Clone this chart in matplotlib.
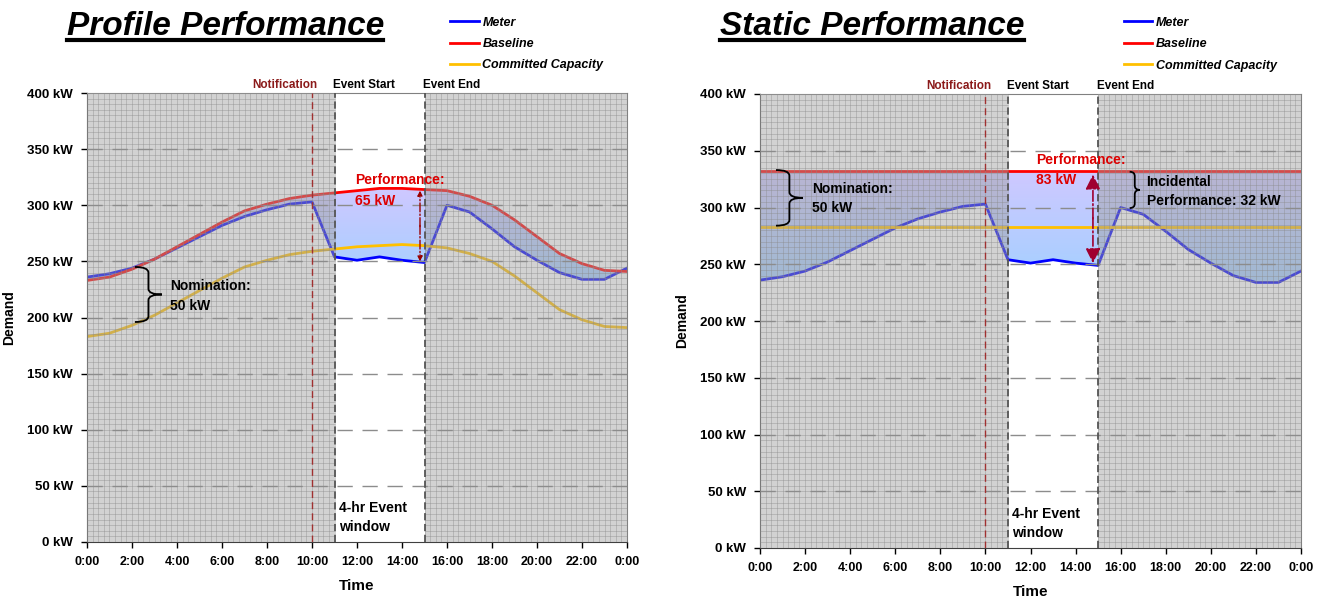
import numpy as np
import matplotlib.pyplot as plt
from matplotlib.path import Path
from matplotlib.patches import PathPatch
from matplotlib.colors import LinearSegmentedColormap
from matplotlib.lines import Line2D

plt.rcParams['font.family'] = ['Liberation Sans', 'DejaVu Sans']

# hourly readings, 0:00 .. 24:00
hours = np.arange(0, 25)
meter = [236, 239, 244, 252, 262, 272, 282, 290, 296, 301, 303, 254, 251, 254,
         251, 249, 300, 294, 279, 263, 251, 240, 234, 234, 244]
baseline_profile = [233, 236, 243, 252, 263, 274, 285, 295, 301, 306, 309, 311, 313,
                    315, 315, 314, 313, 308, 300, 287, 272, 257, 248, 242, 241]
committed_profile = [183, 186, 193, 202, 213, 224, 235, 245, 251, 256, 259, 261, 263,
                     264, 265, 264, 262, 257, 250, 237, 222, 207, 198, 192, 191]
baseline_static = 332
committed_static = 283

notification_hour = 10
event_start = 11
event_end = 15

xtick_hours = np.arange(0, 25, 2)
xtick_labels = ['0:00', '2:00', '4:00', '6:00', '8:00', '10:00', '12:00', '14:00',
                '16:00', '18:00', '20:00', '22:00', '0:00']
ytick_values = np.arange(0, 401, 50)

BLUE = '#0000ff'
RED = '#ff0000'
GOLD = '#ffc000'
DARKRED = '#990000'

grad_cmap = LinearSegmentedColormap.from_list('perf', ['#a4d0ff', '#cfc8ff'])


def gradient_fill(ax, x, top, bottom):
    poly = ax.fill_between(x, bottom, top, facecolor='none', edgecolor='none')
    patch = PathPatch(poly.get_paths()[0], transform=ax.transData,
                      facecolor='none', edgecolor='none')
    ax.add_patch(patch)
    grad = np.linspace(0, 1, 256).reshape(-1, 1)
    im = ax.imshow(grad, cmap=grad_cmap, origin='lower', aspect='auto',
                   extent=[0, 24, min(bottom), max(top)], zorder=1)
    im.set_clip_path(patch)


def brace(ax, x0, x1, y0, y1, r):
    xm = (x0 + x1) / 2
    ym = (y0 + y1) / 2
    verts = [(x0, y1), (xm, y1), (xm, y1 - r), (xm, ym + r), (xm, ym), (x1, ym),
             (xm, ym), (xm, ym - r), (xm, y0 + r), (xm, y0), (x0, y0)]
    codes = [Path.MOVETO, Path.CURVE3, Path.CURVE3, Path.LINETO, Path.CURVE3,
             Path.CURVE3, Path.CURVE3, Path.CURVE3, Path.LINETO, Path.CURVE3,
             Path.CURVE3]
    ax.add_patch(PathPatch(Path(verts, codes), facecolor='none', edgecolor='black',
                           lw=1.3, zorder=6))


def setup_axes(ax):
    # grey hatched background outside the event window
    for a, b in [(0, event_start), (event_end, 24)]:
        ax.axvspan(a, b, facecolor='#a0a0a0', alpha=0.47, lw=0, zorder=3)
        ax.vlines(np.arange(a, b + 0.01, 0.25), 0, 400, colors='#8a8a8a',
                  lw=0.5, alpha=0.55, zorder=3.2)
        ax.hlines(np.arange(0, 401, 5), a, b, colors='#8a8a8a',
                  lw=0.5, alpha=0.55, zorder=3.2)
    ax.hlines(ytick_values[1:-1], 0, 24, colors='#8c8c8c', lw=1,
              linestyles=(0, (11, 7)), zorder=3.5)

    ax.axvline(notification_hour, color='#a03030', lw=1, ls=(0, (5, 3)), zorder=5)
    ax.axvline(event_start, color='#555555', lw=1.3, ls=(0, (4, 2)), zorder=5)
    ax.axvline(event_end, color='#555555', lw=1.3, ls=(0, (4, 2)), zorder=5)

    ax.text(notification_hour + 0.25, 402, 'Notification', ha='right', va='bottom',
            color='#8b1a1a', fontsize=8.5, fontweight='bold')
    ax.text(event_start - 0.05, 402, 'Event Start', ha='left', va='bottom',
            fontsize=8.5, fontweight='bold')
    ax.text(event_end - 0.05, 402, 'Event End', ha='left', va='bottom',
            fontsize=8.5, fontweight='bold')

    ax.set_xlim(0, 24)
    ax.set_ylim(0, 400)
    ax.set_xticks(xtick_hours)
    ax.set_xticklabels(xtick_labels, fontsize=9, fontweight='bold')
    ax.set_yticks(ytick_values)
    ax.set_yticklabels([f'{v} kW' for v in ytick_values], fontsize=9.5, fontweight='bold')
    ax.tick_params(direction='out', length=4, width=1, pad=6)
    ax.set_xlabel('Time', fontsize=11, fontweight='bold', labelpad=8)
    ax.set_ylabel('Demand', fontsize=10, fontweight='bold', labelpad=8)
    for side in ['top', 'right']:
        ax.spines[side].set_color('#808080')
    ax.spines['left'].set_color('#404040')
    ax.spines['bottom'].set_color('#404040')

    ax.text(event_start + 0.2, 30, '4-hr Event', fontsize=10, fontweight='bold',
            va='center', zorder=6)
    ax.text(event_start + 0.2, 13, 'window', fontsize=10, fontweight='bold',
            va='center', zorder=6)

    ax.legend(loc='upper left', bbox_to_anchor=(0.672, 1.17), frameon=False,
              borderaxespad=0, borderpad=0, handlelength=2.3, handletextpad=0.3,
              labelspacing=0.75, prop=dict(weight='bold', style='italic', size=9))


def title(fig, x0, x1, text):
    fig.text(x0 / 1323, 1 - 35 / 600, text, fontsize=24, fontweight='bold',
             style='italic', ha='left', va='baseline')
    fig.add_artist(Line2D([x0 / 1323, x1 / 1323], [1 - 40 / 600, 1 - 40 / 600],
                          color='black', lw=3))


fig = plt.figure(figsize=(13.23, 6), dpi=100)
ax1 = fig.add_axes([87 / 1323, 1 - 542 / 600, 540 / 1323, 449 / 600])
ax2 = fig.add_axes([760 / 1323, 1 - 548 / 600, 541 / 1323, 454 / 600])

# ---- profile performance ----
gradient_fill(ax1, hours, baseline_profile, meter)
ax1.plot(hours, meter, color=BLUE, lw=2, zorder=2, label='Meter')
ax1.plot(hours, baseline_profile, color=RED, lw=2, zorder=2, label='Baseline')
ax1.plot(hours, committed_profile, color=GOLD, lw=2, zorder=2, label='Committed Capacity')
setup_axes(ax1)

ax1.text(11.9, 322.5, 'Performance:', color='#dd0000', fontsize=10,
         fontweight='bold', va='center', zorder=6)
ax1.text(11.9, 304, '65 kW', color='#dd0000', fontsize=10,
         fontweight='bold', va='center', zorder=6)
ax1.annotate('', xy=(14.8, 313), xytext=(14.8, 281), zorder=6,
             arrowprops=dict(arrowstyle='-|>', color=DARKRED, lw=1, ls='-.',
                             mutation_scale=7, shrinkA=0, shrinkB=0))
ax1.annotate('', xy=(14.8, 250), xytext=(14.8, 282), zorder=6,
             arrowprops=dict(arrowstyle='-|>', color=DARKRED, lw=1, ls='-.',
                             mutation_scale=7, shrinkA=0, shrinkB=0))
brace(ax1, 2.13, 3.33, 196, 245, 5)
ax1.text(3.7, 228, 'Nomination:', fontsize=10, fontweight='bold', va='center', zorder=6)
ax1.text(3.7, 210.5, '50 kW', fontsize=10, fontweight='bold', va='center', zorder=6)

# ---- static performance ----
static_base = np.full(len(hours), baseline_static)
static_comm = np.full(len(hours), committed_static)
gradient_fill(ax2, hours, static_base, meter)
ax2.plot(hours, meter, color=BLUE, lw=2, zorder=2, label='Meter')
ax2.plot(hours, static_base, color=RED, lw=2, zorder=2, label='Baseline')
ax2.plot(hours, static_comm, color=GOLD, lw=2, zorder=2, label='Committed Capacity')
setup_axes(ax2)

ax2.text(12.25, 342, 'Performance:', color='#dd0000', fontsize=10,
         fontweight='bold', va='center', zorder=6)
ax2.text(12.25, 324, '83 kW', color='#dd0000', fontsize=10,
         fontweight='bold', va='center', zorder=6)
ax2.annotate('', xy=(14.77, 329), xytext=(14.77, 290), zorder=6,
             arrowprops=dict(arrowstyle='-|>', color='#a00030', lw=1.2, ls='-.',
                             mutation_scale=22, shrinkA=0, shrinkB=0))
ax2.annotate('', xy=(14.77, 251), xytext=(14.77, 291), zorder=6,
             arrowprops=dict(arrowstyle='-|>', color='#a00030', lw=1.2, ls='-.',
                             mutation_scale=22, shrinkA=0, shrinkB=0))
brace(ax2, 0.71, 1.9, 284, 333, 5)
ax2.text(2.3, 316, 'Nomination:', fontsize=10, fontweight='bold', va='center', zorder=6)
ax2.text(2.3, 299.5, '50 kW', fontsize=10, fontweight='bold', va='center', zorder=6)
brace(ax2, 16.4, 16.85, 299.5, 331.5, 4)
ax2.text(17.15, 322.7, 'Incidental', fontsize=10, fontweight='bold', va='center', zorder=6)
ax2.text(17.15, 305.7, 'Performance: 32 kW', fontsize=10, fontweight='bold',
         va='center', zorder=6)

title(fig, 67, 383, 'Profile Performance')
title(fig, 720, 1024, 'Static Performance')

fig.savefig('out.png', dpi=100)
